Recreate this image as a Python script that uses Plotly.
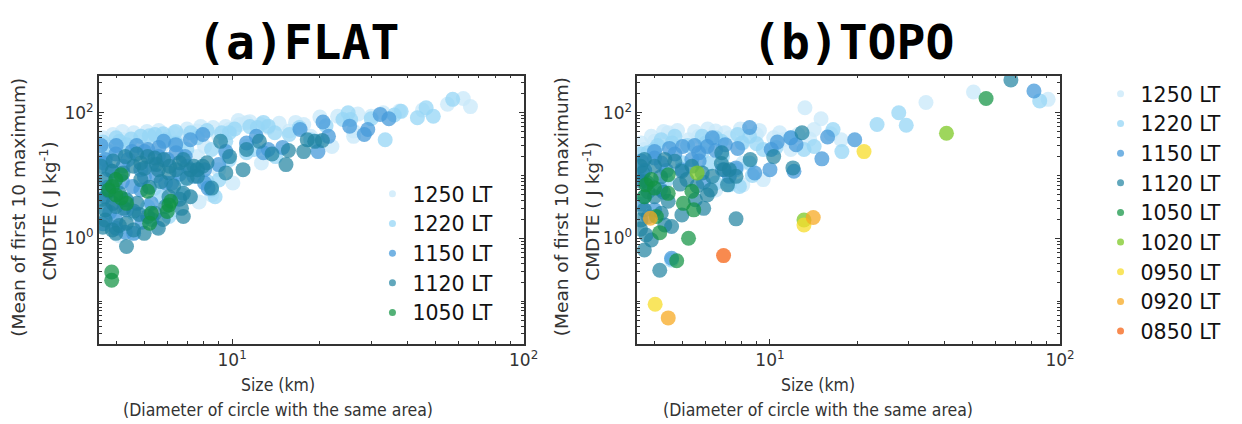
import plotly.graph_objects as go

# ---------------- data: (a) FLAT ----------------
flat_1250_x = [65.7, 62.1, 54.8, 37.5, 30.0, 26.1, 23.0, 22.0, 17.6, 15.7, 13.3, 11.2, 10.6, 9.78, 10.06, 8.99, 7.60, 6.80, 6.07, 5.43, 4.86, 4.22, 3.77, 3.67, 3.62, 3.99, 5.13, 5.74, 6.61, 8.04, 8.50, 7.19, 6.25, 4.59, 4.34, 3.67, 3.88, 3.62, 7.60, 9.51, 11.2, 18.6, 26.1, 12.6, 8.99, 3.67,
               3.6, 3.9, 4.2, 4.6, 5.1, 5.6, 6.3, 7.0, 7.8, 8.6, 9.5, 10.5, 11.5, 12.5, 14.5, 16.5, 20.0, 27.0, 33.0, 45.0, 3.55, 3.55, 5.5, 4.1, 6.5, 7.7]
flat_1250_y = [125, 168, 136, 106, 88, 51, 88, 29, 65, 51, 58, 69, 65, 54, 7.6, 42, 51, 42, 42, 45, 42, 37, 31, 20, 26, 26, 35, 29, 31, 29, 4.9, 4.6, 2.84, 1.20, 26, 12.4, 2.22, 8.6, 20, 23, 29, 42, 42, 15.8, 12.4, 5.2,
               40, 45, 50, 48, 50, 52, 48, 55, 60, 58, 60, 75, 72, 65, 68, 70, 85, 95, 100, 110, 9.0, 3.5, 1.5, 1.1, 4.5, 3.8]

flat_1220_x = [57.1, 46.3, 49.0, 43.2, 33.5, 25.0, 24.0, 19.7, 15.7, 13.3, 12.2, 11.9, 9.78, 9.51, 8.50, 7.60, 6.42, 5.43, 4.86, 4.10, 3.77, 3.67, 4.34, 5.91, 6.99, 7.60, 8.50, 8.74, 6.80, 5.74, 5.13, 4.59, 3.99, 3.67, 6.07, 9.78, 11.2, 14.1, 18.6,
               3.6, 4.0, 4.5, 5.2, 5.8, 6.4, 7.2, 8.2, 9.2, 10.2, 11.5, 12.8, 14.0, 17.0, 21.0, 25.5, 30.0, 38.0, 36.0, 3.7, 4.3, 5.4, 6.7, 9.0, 8.2]
flat_1220_y = [163, 120, 88, 83, 37, 100, 78, 35, 45, 61, 58, 26, 48, 35, 26, 40, 33, 45, 42, 35, 24, 15.8, 31, 37, 26, 12.4, 5.9, 4.6, 8.6, 4.6, 3.2, 2.51, 6.7, 2.84, 2.22, 17.9, 23, 20, 37,
               34, 40, 38, 43, 46, 50, 48, 52, 48, 55, 60, 70, 48, 58, 62, 78, 80, 105, 92, 6.5, 4.2, 6.2, 5.0, 8.5, 8.0]

flat_1150_x = [32.2, 34.5, 29.2, 28.4, 25.3, 20.5, 21.4, 19.7, 17.1, 14.9, 12.1, 12.8, 9.51, 7.93, 7.19, 5.82, 5.13, 4.53, 3.99, 3.67, 3.77, 4.22, 4.86, 5.58, 6.42, 6.99, 7.39, 8.04, 8.27, 3.99, 4.86, 5.91, 5.28, 3.67, 4.34, 4.59, 3.99, 8.04, 8.99, 11.2, 13.3,
               3.55, 3.6, 4.0, 4.4, 4.7, 5.0, 5.3, 5.6, 6.0, 6.4, 6.9, 3.75, 4.2, 4.55, 5.0, 5.5, 6.2, 6.6, 3.6, 4.0, 4.3, 3.8, 4.9, 5.3]
flat_1150_y = [94, 80, 54, 45, 61, 71, 42, 24, 54, 28, 42, 23, 24, 45, 37, 35, 26, 24, 22, 17.9, 12.4, 14.0, 12.4, 20, 23, 14.0, 9.7, 7.6, 6.3, 8.6, 5.9, 7.6, 3.6, 4.6, 2.84, 1.20, 1.96, 12.4, 14.9, 33, 26,
               30, 16, 30, 18, 30, 24, 15, 28, 18, 31, 20, 6.5, 8.0, 6.7, 9.5, 10, 7.5, 10.5, 1.7, 1.45, 1.25, 2.6, 1.8, 2.0]

flat_1120_x = [18.1, 19.2, 17.6, 15.3, 11.2, 10.9, 9.51, 12.4, 13.7, 9.12, 7.93, 7.19, 6.80, 6.42, 5.82, 5.43, 5.13, 4.86, 4.59, 4.22, 3.88, 3.67, 3.77, 4.10, 4.86, 5.58, 6.07, 7.60, 8.50, 7.19, 6.80, 6.07, 5.91, 5.43, 5.58, 5.13, 4.72, 4.34, 3.99, 3.67, 3.67, 3.88, 4.34, 4.59, 3.99, 4.99, 6.80, 4.34, 6.70, 7.39, 7.60,
               3.55, 3.9, 4.3, 4.7, 5.0, 5.5, 6.1, 6.6, 7.0, 3.6, 3.9, 4.25, 4.6, 5.2, 5.7, 6.3, 6.6, 3.6, 4.1, 4.8, 5.8, 9.8, 8.2, 15.6, 20.4]
flat_1120_y = [37, 35, 24, 14.9, 26, 12.4, 11.0, 35, 22, 35, 14.0, 12.4, 17.9, 12.4, 17.9, 19, 20, 15.8, 14.0, 11.0, 11.7, 8.6, 5.6, 5.2, 8.6, 12.4, 11.0, 9.7, 6.3, 4.6, 5.2, 4.6, 3.2, 2.51, 1.45, 2.22, 3.6, 4.1, 3.2, 2.84, 1.96, 1.36, 1.74, 1.36, 1.20, 1.20, 2.22, 0.74, 3.0, 14.0, 12.4,
               14, 17, 20, 22, 13, 15, 14, 16, 9.0, 4.2, 3.6, 3.0, 2.7, 6.5, 8.0, 6.8, 4.2, 1.5, 1.6, 2.4, 2.0, 20, 16, 25, 36]

flat_1050_x = [4.16, 3.99, 3.88, 3.77, 3.99, 4.16, 4.34, 5.13, 5.28, 5.21, 6.07, 6.16, 5.99, 3.86, 3.86]
flat_1050_y = [10.3, 8.6, 6.7, 5.9, 4.9, 4.4, 3.6, 5.6, 2.51, 1.74, 3.4, 3.9, 2.67, 0.29, 0.215]

# ---------------- data: (b) TOPO ----------------
topo_1250_x = [50.3, 34.5, 91.0, 13.2, 15.0, 14.2, 17.6, 11.1, 10.3, 8.98, 8.06, 7.24, 6.50, 5.68, 5.24, 4.46, 4.00, 3.69, 3.90, 8.06, 9.48, 8.06, 11.8, 7.24, 6.50,
               3.6, 3.9, 4.3, 4.8, 5.5, 6.1, 7.0, 7.9, 9.2, 10.8, 12.5, 13.7, 16.2]
topo_1250_y = [214, 145, 163, 120, 80, 54, 37, 37, 40, 45, 33, 40, 51, 42, 37, 48, 35, 26, 20, 15.8, 8.6, 7.1, 26, 8.6, 5.9,
               33, 42, 50, 52, 50, 55, 48, 55, 52, 48, 45, 38, 46]

topo_1220_x = [85.1, 27.8, 29.5, 23.4, 17.7, 14.2, 13.1, 16.5, 11.8, 9.48, 8.51, 7.74, 6.50, 5.84, 4.70, 4.22, 4.00, 3.79, 5.84, 6.86, 7.64, 8.51, 7.85, 7.24, 4.58, 6.50,
               3.6, 4.1, 4.6, 5.2, 6.0, 6.8, 8.0, 9.0, 10.5, 3.7, 5.0, 6.2, 8.7, 4.4]
topo_1220_y = [154, 100, 63, 65, 24, 29, 26, 54, 40, 26, 42, 45, 40, 42, 42, 37, 26, 23, 23, 20, 12.4, 15.8, 6.7, 7.1, 0.45, 7.6,
               22, 30, 33, 30, 33, 35, 33, 32, 28, 12, 16, 15.5, 10, 8.5]

topo_1150_x = [81.3, 19.6, 15.8, 15.1, 12.3, 11.8, 10.6, 10.1, 8.86, 8.51, 7.74, 7.01, 6.33, 6.08, 5.68, 4.70, 4.22, 4.00, 5.38, 6.86, 7.24, 7.64, 12.1, 10.0, 4.58, 4.97, 3.59, 3.69, 4.00,
               3.6, 4.0, 4.5, 5.0, 5.5, 6.5, 3.7, 4.4, 5.7, 3.6, 3.8, 4.2, 5.9]
topo_1150_y = [222, 37, 41, 18.4, 31, 40, 34, 26, 11.0, 58, 27, 31, 40, 29, 23, 22, 15.8, 19, 17.9, 12.4, 9.7, 13.2, 11.7, 12.4, 0.48, 12.4, 8.6, 4.6, 2.84,
               17, 24, 27, 29, 30, 25, 12, 12, 17, 3.5, 2.2, 6.0, 7.8]

topo_1120_x = [67.7, 12.9, 12.0, 10.3, 8.55, 7.64, 6.82, 6.95, 7.14, 6.33, 6.24, 5.84, 5.38, 4.97, 4.70, 4.34, 4.00, 3.69, 3.64, 3.79, 4.00, 3.69, 3.59, 3.74, 3.90, 3.69, 4.17, 4.58, 4.34, 4.97, 5.53, 5.91, 4.46, 4.22, 6.08, 7.24, 7.64, 5.17,
               3.58, 3.6, 3.8, 4.2, 4.9, 5.6, 6.8, 3.58, 4.3]
topo_1120_y = [333, 48, 13.2, 20, 17.9, 2.04, 23, 12.4, 7.1, 9.7, 5.9, 11.0, 14.0, 11.7, 16.9, 17.9, 14.0, 17.9, 11.0, 7.6, 4.6, 2.84, 1.96, 1.13, 0.94, 0.65, 0.31, 1.54, 1.63, 2.36, 4.1, 3.0, 3.9, 2.51, 4.9, 12.4, 9.7, 8.6,
               14, 8.0, 5.5, 9.5, 7.3, 6.8, 15.5, 1.4, 5.4]

topo_1050_x = [55.6, 4.46, 3.90, 3.74, 3.69, 4.00, 4.46, 5.38, 5.03, 5.46, 4.06, 4.17, 5.24, 4.77]
topo_1050_y = [168, 10.3, 8.6, 7.1, 4.6, 6.3, 5.2, 5.6, 3.6, 2.84, 2.22, 1.23, 1.0, 0.44]

topo_1020_x = [40.6, 5.61, 13.1]
topo_1020_y = [47, 11.0, 1.96]

topo_0950_x = [21.1, 13.1, 4.02]
topo_0950_y = [24, 1.63, 0.089]

topo_0920_x = [14.1, 3.87, 4.46]
topo_0920_y = [2.14, 2.09, 0.054]

topo_0850_x = [6.92]
topo_0850_y = [0.53]

labels = ["1250 LT", "1220 LT", "1150 LT", "1120 LT", "1050 LT", "1020 LT", "0950 LT", "0920 LT", "0850 LT"]
colors = ["rgba(200,232,250,0.75)", "rgba(150,214,245,0.75)", "rgba(70,154,218,0.75)",
          "rgba(30,130,160,0.70)", "rgba(16,147,67,0.72)", "rgba(126,200,38,0.75)",
          "rgba(247,220,42,0.75)", "rgba(247,170,35,0.75)", "rgba(246,99,20,0.75)"]

flat_series = [(flat_1250_x, flat_1250_y), (flat_1220_x, flat_1220_y), (flat_1150_x, flat_1150_y),
               (flat_1120_x, flat_1120_y), (flat_1050_x, flat_1050_y)]
topo_series = [(topo_1250_x, topo_1250_y), (topo_1220_x, topo_1220_y), (topo_1150_x, topo_1150_y),
               (topo_1120_x, topo_1120_y), (topo_1050_x, topo_1050_y), (topo_1020_x, topo_1020_y),
               (topo_0950_x, topo_0950_y), (topo_0920_x, topo_0920_y), (topo_0850_x, topo_0850_y)]

W, H = 1242, 424
MS = 15

fig = go.Figure()
for i, (xs, ys) in enumerate(flat_series):
    fig.add_trace(go.Scatter(x=xs, y=ys, mode="markers", xaxis="x", yaxis="y",
                             marker=dict(size=MS, color=colors[i], line=dict(width=0)),
                             showlegend=False))
    fig.add_trace(go.Scatter(x=[None], y=[None], mode="markers", xaxis="x", yaxis="y",
                             marker=dict(size=7, color=colors[i]), name=labels[i],
                             legend="legend", showlegend=True))
for i, (xs, ys) in enumerate(topo_series):
    fig.add_trace(go.Scatter(x=xs, y=ys, mode="markers", xaxis="x2", yaxis="y2",
                             marker=dict(size=MS, color=colors[i], line=dict(width=0)),
                             showlegend=False))
    fig.add_trace(go.Scatter(x=[None], y=[None], mode="markers", xaxis="x2", yaxis="y2",
                             marker=dict(size=7, color=colors[i]), name=labels[i],
                             legend="legend2", showlegend=True))

tickfont = dict(family="DejaVu Sans", size=17, color="#333333")
x_major = [10, 100]
x_major_text = ["10<sup>1</sup>", "10<sup>2</sup>"]
x_minor = [4, 5, 6, 7, 8, 9, 20, 30, 40, 50, 60, 70, 80, 90]
y_major = [1, 100]
y_major_text = ["10<sup>0</sup>", "10<sup>2</sup>"]
y_minor = [0.03, 0.04, 0.05, 0.06, 0.07, 0.08, 0.09, 0.1, 0.2, 0.3, 0.4, 0.5, 0.6, 0.7, 0.8, 0.9,
           2, 3, 4, 5, 6, 7, 8, 9, 10, 20, 30, 40, 50, 60, 70, 80, 90, 200, 300]

def xax(dom):
    return dict(type="log", domain=dom, range=[0.5424, 2], showgrid=False, zeroline=False,
                showline=True, linecolor="#333333", linewidth=1.5, mirror="allticks",
                ticks="inside", ticklen=5, tickwidth=1, tickcolor="#333333",
                tickmode="array", tickvals=x_major, ticktext=x_major_text, tickfont=tickfont,
                minor=dict(ticks="inside", ticklen=3, tickwidth=1, tickcolor="#333333",
                           tickmode="array", tickvals=x_minor, showgrid=False))

def yax(dom, anchor):
    return dict(type="log", domain=dom, range=[-1.683, 2.589], anchor=anchor, showgrid=False,
                zeroline=False, showline=True, linecolor="#333333", linewidth=1.5,
                mirror="allticks", ticks="inside", ticklen=5, tickwidth=1, tickcolor="#333333",
                tickmode="array", tickvals=y_major, ticktext=y_major_text, tickfont=tickfont,
                minor=dict(ticks="inside", ticklen=3, tickwidth=1, tickcolor="#333333",
                           tickmode="array", tickvals=y_minor, showgrid=False))

lfont = dict(family="DejaVu Sans", size=20.5, color="#111111")
ydom = [(H - 344) / H, (H - 75.7) / H]
fig.update_layout(
    width=W, height=H, margin=dict(l=0, r=0, t=0, b=0),
    paper_bgcolor="white", plot_bgcolor="white",
    xaxis=dict(xax([100 / W, 530 / W]), anchor="y"),
    yaxis=yax(ydom, "x"),
    xaxis2=dict(xax([645 / W, 1073 / W]), anchor="y2"),
    yaxis2=yax(ydom, "x2"),
    legend=dict(x=377 / W, y=(H - 174) / H, xanchor="left", yanchor="top",
                bgcolor="rgba(0,0,0,0)", font=lfont, itemwidth=30, tracegroupgap=0),
    legend2=dict(x=1114 / W, y=(H - 74) / H, xanchor="left", yanchor="top",
                 bgcolor="rgba(0,0,0,0)", font=lfont, itemwidth=30, tracegroupgap=0),
)

ann = []
ttl = dict(family="DejaVu Sans Mono", size=48, color="black")
ann.append(dict(text="<b>(a)FLAT</b>", x=302 / W, y=(H - 42) / H, font=ttl))
ann.append(dict(text="<b>(b)TOPO</b>", x=863 / W, y=(H - 42) / H, font=ttl))
xt = dict(family="DejaVu Sans Condensed", size=17.5, color="#333333")
for cx in (281, 828):
    ann.append(dict(text="Size (km)", x=cx / W, y=(H - 385) / H, font=xt))
    ann.append(dict(text="(Diameter of circle with the same area)", x=cx / W, y=(H - 410) / H, font=xt))
yt = dict(family="DejaVu Sans", size=18.5, color="#333333")
for (x1, x2) in ((18, 49), (568, 598)):
    ann.append(dict(text="(Mean of first 10 maximum)", x=x1 / W, y=(H - 207) / H, font=yt, textangle=-90))
    ann.append(dict(text="CMDTE ( J kg<sup>-1</sup>)", x=x2 / W, y=(H - 211) / H, font=yt, textangle=-90))
for a in ann:
    a.update(xref="paper", yref="paper", xanchor="center", yanchor="middle", showarrow=False)
fig.update_layout(annotations=ann)

fig.write_html("out.html")
